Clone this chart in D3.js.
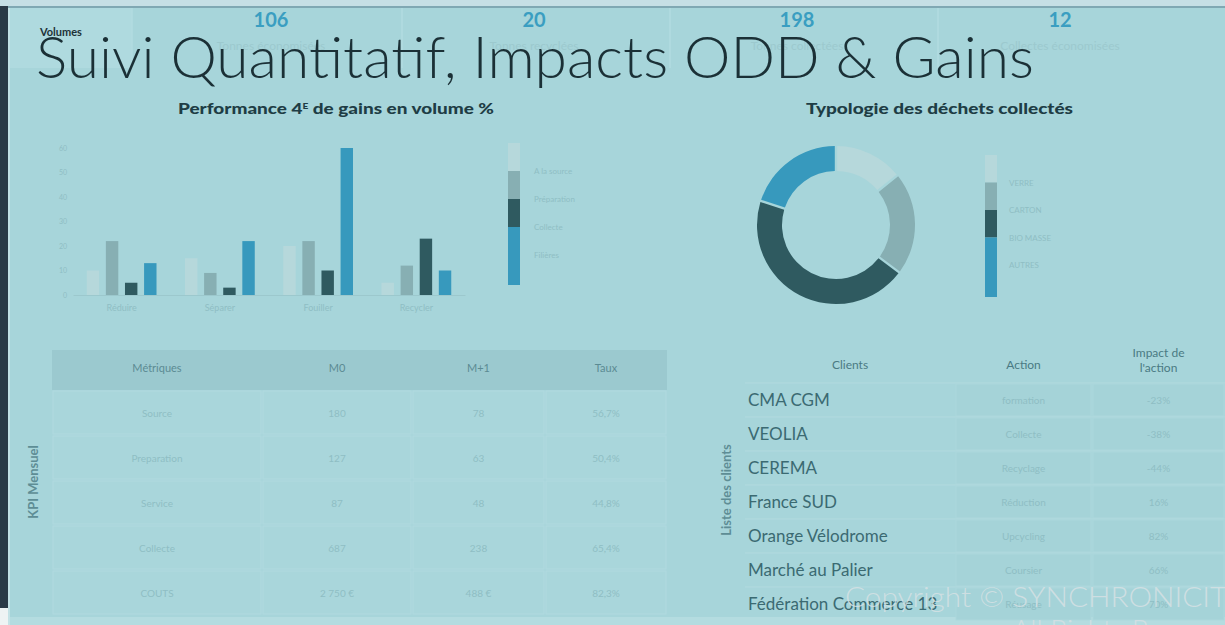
<!DOCTYPE html>
<html>
<head>
<meta charset="utf-8">
<title>Suivi Quantitatif, Impacts ODD & Gains</title>
<script src="https://d3js.org/d3.v7.min.js"></script>
<style>
  body { margin: 0; background: #a7d5da; overflow: hidden; }
  text { font-family: Lato, "Open Sans", sans-serif; }
</style>
</head>
<body>
<div id="home"></div>
<script>
// top kpi strip
const kpiValues = [106, 20, 198, 12];
const kpiLabels = ["Tonnes économisées", "Tonnes recyclées", "Tonnes collectées", "Collectes économisées"];

// bar chart
const barGroups = ["Réduire", "Séparer", "Fouiller", "Recycler"];
const barSeries = ["A la source", "Préparation", "Collecte", "Filières"];
const barSource = [10, 15, 20, 5];
const barPrep = [22, 9, 22, 12];
const barCollecte = [5, 3, 10, 23];
const barFilieres = [13, 22, 60, 10];
const barTicks = [0, 10, 20, 30, 40, 50, 60];

// donut
const wasteTypes = ["VERRE", "CARTON", "BIO MASSE", "AUTRES"];
const wasteShare = [14, 21, 45, 20];

// kpi table
const kpiHeaders = ["Métriques", "M0", "M+1", "Taux"];
const kpiMetrics = ["Source", "Preparation", "Service", "Collecte", "COUTS"];
const kpiM0 = ["180", "127", "87", "687", "2 750 €"];
const kpiM1 = ["78", "63", "48", "238", "488 €"];
const kpiTaux = ["56,7%", "50,4%", "44,8%", "65,4%", "82,3%"];

// client table
const clientHeaders = ["Clients", "Action", "Impact de|l'action"];
const clients = ["CMA CGM", "VEOLIA", "CEREMA", "France SUD", "Orange Vélodrome", "Marché au Palier", "Fédération Commerce 13"];
const clientActions = ["formation", "Collecte", "Recyclage", "Réduction", "Upcycling", "Coursier", "Réusage"];
const clientImpacts = ["-23%", "-38%", "-44%", "16%", "82%", "66%", "70%"];

const palette = ["#b6d8db", "#87afb3", "#2f5a60", "#3799bd"];
const faint = "#8fbec4";
const w = 1225, h = 625;

const svg = d3.select("#home").append("svg")
  .attr("width", w).attr("height", h);

// frame
svg.append("rect").attr("x", 0).attr("y", 0).attr("width", w).attr("height", h).attr("fill", "#a7d5da");
svg.append("rect").attr("x", 0).attr("y", 0).attr("width", w).attr("height", 6).attr("fill", "#c6dfe5");
svg.append("rect").attr("x", 0).attr("y", 6).attr("width", w).attr("height", 2).attr("fill", "#80a8b3");
svg.append("rect").attr("x", 10).attr("y", 8).attr("width", 122).attr("height", 60).attr("fill", "#afdadf");
svg.append("rect").attr("x", 0).attr("y", 617).attr("width", w).attr("height", 8).attr("fill", "#b4dce0");
svg.append("rect").attr("x", 0).attr("y", 6).attr("width", 8).attr("height", 602).attr("fill", "#2b3a47");
svg.append("rect").attr("x", 0).attr("y", 608).attr("width", 8).attr("height", 17).attr("fill", "#eef3f4");
svg.append("rect").attr("x", 8).attr("y", 8).attr("width", 2).attr("height", 617).attr("fill", "#c3e2e6");

// kpi strip
const kx = d3.scalePoint().domain(d3.range(kpiValues.length)).range([271, 1060]);
[132, 402, 670, 938].forEach(d => {
  svg.append("line").attr("x1", d).attr("x2", d).attr("y1", 8).attr("y2", 68)
    .attr("stroke", "#b2dbe0").attr("stroke-width", 1.5);
});
svg.selectAll(".kpiv").data(kpiValues).join("text")
  .attr("x", (d, i) => kx(i)).attr("y", 27)
  .attr("text-anchor", "middle").attr("font-family", "'Open Sans', sans-serif")
  .attr("font-weight", 700).attr("font-size", 20).attr("fill", "#3a9ec1")
  .text(d => d);
svg.selectAll(".kpil").data(kpiLabels).join("text")
  .attr("x", (d, i) => kx(i)).attr("y", 50)
  .attr("text-anchor", "middle").attr("font-size", 12).attr("fill", "#9cc9ce")
  .text(d => d);
svg.append("text").attr("x", 40).attr("y", 36)
  .attr("font-size", 11).attr("font-weight", 700).attr("fill", "#1d3238").text("Volumes");

// main title
svg.append("text").attr("x", 36).attr("y", 78)
  .attr("font-size", 57).attr("font-weight", 300).attr("fill", "#1b3036")
  .attr("textLength", 998).attr("lengthAdjust", "spacingAndGlyphs")
  .text("Suivi Quantitatif, Impacts ODD & Gains");

// bar chart
const bt = svg.append("text").attr("x", 178).attr("y", 114)
  .attr("font-size", 15).attr("font-weight", 900).attr("fill", "#1e3d45")
  .attr("textLength", 316).attr("lengthAdjust", "spacingAndGlyphs");
bt.append("tspan").text("Performance 4");
bt.append("tspan").attr("font-size", 8).attr("dy", -5).text("E");
bt.append("tspan").attr("dy", 5).text(" de gains en volume %");

const x0 = d3.scaleBand().domain(barGroups).range([73, 465]).paddingInner(0.29).paddingOuter(0.14);
const x1 = d3.scaleBand().domain(barSeries).range([0, x0.bandwidth()]).paddingInner(0.35).paddingOuter(0);
const y = d3.scaleLinear().domain([0, 60]).range([295, 148]);

const yAxis = svg.append("g").attr("transform", "translate(70,0)")
  .call(d3.axisLeft(y).tickValues(barTicks).tickSize(0).tickPadding(3));
yAxis.select(".domain").remove();
yAxis.selectAll("text").attr("fill", faint).attr("font-size", 7);

const xAxis = svg.append("g").attr("transform", "translate(0,295)")
  .call(d3.axisBottom(x0).tickSize(0).tickPadding(10));
xAxis.select(".domain").attr("stroke", "#9cc8cd");
xAxis.selectAll("text").attr("fill", faint).attr("font-size", 9);

const barRows = barGroups.map((g, i) => ({
  group: g, values: [barSource[i], barPrep[i], barCollecte[i], barFilieres[i]]
}));
svg.append("g").selectAll("g").data(barRows).join("g")
  .attr("transform", d => `translate(${x0(d.group)},0)`)
  .selectAll("rect").data(d => d.values.map((v, j) => ({ s: barSeries[j], v, j })))
  .join("rect")
  .attr("x", d => x1(d.s)).attr("width", x1.bandwidth())
  .attr("y", d => y(d.v)).attr("height", d => y(0) - y(d.v))
  .attr("fill", d => palette[d.j]);

// stacked legend helper
function stackLegend(items, x, top, step, extra, labelX) {
  const ly = d3.scaleBand().domain(items).range([top, top + step * items.length]);
  const g = svg.append("g");
  g.selectAll("rect").data(items).join("rect")
    .attr("x", x).attr("width", 12)
    .attr("y", d => ly(d))
    .attr("height", (d, i) => ly.bandwidth() + (i === items.length - 1 ? extra : 0))
    .attr("fill", (d, i) => palette[i]);
  g.selectAll("text").data(items).join("text")
    .attr("x", labelX).attr("y", d => ly(d) + ly.bandwidth() + 3)
    .attr("font-size", 8).attr("fill", faint).text(d => d);
}
stackLegend(barSeries, 508, 143, 28, 30, 534);

// donut
svg.append("text").attr("x", 806).attr("y", 114)
  .attr("font-size", 15).attr("font-weight", 900).attr("fill", "#1e3d45")
  .attr("textLength", 267).attr("lengthAdjust", "spacingAndGlyphs")
  .text("Typologie des déchets collectés");

const pie = d3.pie().sort(null).value(d => d).padAngle(0.025);
const arc = d3.arc().innerRadius(54).outerRadius(79);
svg.append("g").attr("transform", "translate(836,225)")
  .selectAll("path").data(pie(wasteShare)).join("path")
  .attr("d", arc).attr("fill", (d, i) => palette[i]);

stackLegend(wasteTypes, 985, 155, 27.5, 32, 1009);

// kpi table
const kCols = [52, 262, 412, 545, 667];
const kRows = d3.scaleBand().domain(d3.range(kpiMetrics.length)).range([390, 615]);
const kpiCells = kpiMetrics.map((m, i) => [m, kpiM0[i], kpiM1[i], kpiTaux[i]]);

svg.append("rect").attr("x", kCols[0]).attr("y", 350).attr("width", kCols[4] - kCols[0]).attr("height", 40)
  .attr("fill", "#9bc9cf");
svg.selectAll(".kh").data(kpiHeaders).join("text")
  .attr("x", (d, i) => (kCols[i] + kCols[i + 1]) / 2).attr("y", 372)
  .attr("text-anchor", "middle").attr("font-size", 11).attr("fill", "#5b8b93").text(d => d);

const kr = svg.append("g").selectAll("g").data(kpiCells).join("g")
  .attr("transform", (d, i) => `translate(0,${kRows(i)})`);
kr.selectAll("rect").data(d => d).join("rect")
  .attr("x", (d, i) => kCols[i] + 1).attr("width", (d, i) => kCols[i + 1] - kCols[i] - 2)
  .attr("y", 1).attr("height", kRows.bandwidth() - 2)
  .attr("fill", "#a9d6db").attr("stroke", "#b1dadf").attr("stroke-width", 1);
kr.selectAll("text").data(d => d).join("text")
  .attr("x", (d, i) => (kCols[i] + kCols[i + 1]) / 2).attr("y", kRows.bandwidth() / 2 + 4)
  .attr("text-anchor", "middle").attr("font-size", 10).attr("fill", faint).text(d => d);

svg.append("text").attr("transform", "translate(38,482) rotate(-90)")
  .attr("text-anchor", "middle").attr("font-size", 13).attr("font-weight", 700)
  .attr("fill", "#5e8d95").text("KPI Mensuel");

// client table
const cCols = [745, 955, 1092, 1225];
const cRows = d3.scaleBand().domain(d3.range(clients.length)).range([383, 621]);

svg.selectAll(".ch").data(clientHeaders).join("text")
  .attr("x", (d, i) => (cCols[i] + cCols[i + 1]) / 2)
  .attr("y", d => d.includes("|") ? 357 : 369)
  .attr("text-anchor", "middle").attr("font-size", 12).attr("fill", "#4a7a83")
  .each(function (d) {
    const parts = d.split("|");
    d3.select(this).selectAll("tspan").data(parts).join("tspan")
      .attr("x", d3.select(this).attr("x")).attr("dy", (p, k) => k ? 15 : 0).text(p => p);
  });

const clientRows = clients.map((c, i) => [c, clientActions[i], clientImpacts[i]]);
const cr = svg.append("g").selectAll("g").data(clientRows).join("g")
  .attr("transform", (d, i) => `translate(0,${cRows(i)})`);
cr.append("line").attr("x1", cCols[0]).attr("x2", cCols[3]).attr("y1", 0).attr("y2", 0)
  .attr("stroke", "#b2dadf").attr("stroke-width", 1);
cr.selectAll("rect").data(d => d.slice(1)).join("rect")
  .attr("x", (d, i) => cCols[i + 1] + 1).attr("width", (d, i) => cCols[i + 2] - cCols[i + 1] - 2)
  .attr("y", 1).attr("height", cRows.bandwidth() - 2)
  .attr("fill", "#a5d3d8").attr("stroke", "#acd7dc");
cr.append("text").attr("x", 748).attr("y", cRows.bandwidth() / 2 + 6)
  .attr("font-size", 17).attr("fill", "#3b6a72").text(d => d[0]);
cr.selectAll(".cv").data(d => d.slice(1)).join("text")
  .attr("x", (d, i) => (cCols[i + 1] + cCols[i + 2]) / 2).attr("y", cRows.bandwidth() / 2 + 4)
  .attr("text-anchor", "middle").attr("font-size", 10).attr("fill", faint).text(d => d);

svg.append("text").attr("transform", "translate(731,490) rotate(-90)")
  .attr("text-anchor", "middle").attr("font-size", 13).attr("font-weight", 700)
  .attr("fill", "#5e8d95").text("Liste des clients");

// watermark
svg.append("text").attr("x", 845).attr("y", 607)
  .attr("font-family", "'Open Sans', sans-serif").attr("font-weight", 300)
  .attr("font-size", 28).attr("fill", "#d6e1e4").attr("fill-opacity", 0.85)
  .attr("textLength", 400).attr("lengthAdjust", "spacingAndGlyphs")
  .text("Copyright © SYNCHRONICITY");
svg.append("text").attr("x", 1012).attr("y", 640)
  .attr("font-family", "'Open Sans', sans-serif").attr("font-weight", 300)
  .attr("font-size", 28).attr("fill", "#d6e1e4").attr("fill-opacity", 0.85)
  .text("All Rights Reserved");
</script>
</body>
</html>
